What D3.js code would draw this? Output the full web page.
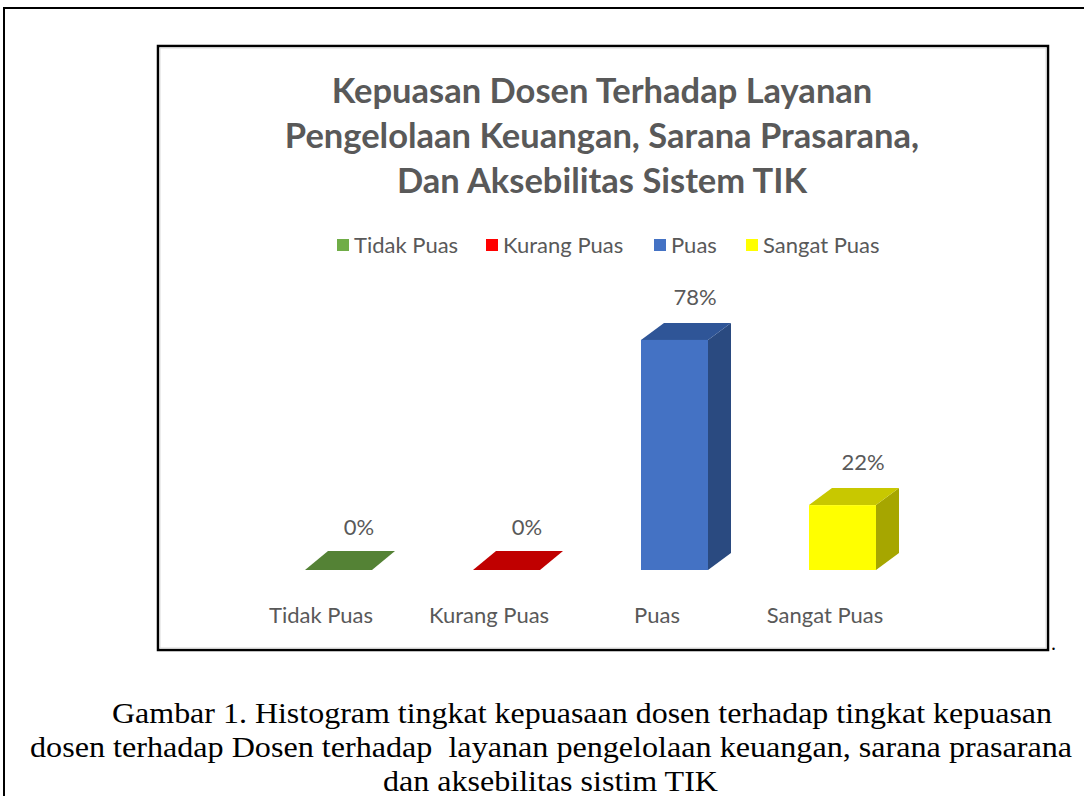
<!DOCTYPE html>
<html>
<head>
<meta charset="utf-8">
<script src="https://cdn.jsdelivr.net/npm/d3@7"></script>
<style>
  html, body { margin: 0; padding: 0; background: #fff; }
  svg { display: block; }
</style>
</head>
<body>
<svg id="chart" width="1084" height="796"></svg>
<script>
// ── Data ────────────────────────────────────────────────────────────
const categories = ["Tidak Puas", "Kurang Puas", "Puas", "Sangat Puas"];
const values     = [0, 0, 78, 22];
const valueLabels = ["0%", "0%", "78%", "22%"];
const titleLines = [
  "Kepuasan Dosen Terhadap Layanan",
  "Pengelolaan Keuangan, Sarana Prasarana,",
  "Dan Aksebilitas Sistem TIK"
];
const captionLines = [
  "Gambar 1. Histogram tingkat kepuasaan dosen terhadap tingkat kepuasan",
  "dosen terhadap Dosen terhadap  layanan pengelolaan keuangan, sarana prasarana",
  "dan aksebilitas sistim TIK"
];

// colours: legend, front, side, top
const COLORS = {
  "Tidak Puas":  { legend: "#70ad47", front: "#70ad47", side: "#4e7a31", top: "#548235" },
  "Kurang Puas": { legend: "#ff0000", front: "#ff0000", side: "#a00000", top: "#c00000" },
  "Puas":        { legend: "#4472c4", front: "#4472c4", side: "#2a4a80", top: "#2f5597" },
  "Sangat Puas": { legend: "#ffff00", front: "#ffff00", side: "#a6a600", top: "#c8c800" }
};

const FONT = "Lato, 'Open Sans', sans-serif";
const GREY = "#595959";

const svg = d3.select("#chart");

// ── Page frame ──────────────────────────────────────────────────────
svg.append("path")
  .attr("d", "M4,800 V8 H1090")
  .attr("fill", "none").attr("stroke", "#000").attr("stroke-width", 2);

// chart box
svg.append("rect")
  .attr("x", 158).attr("y", 46).attr("width", 890).attr("height", 604)
  .attr("fill", "#fff").attr("stroke", "#000").attr("stroke-width", 2.5);
svg.append("rect")
  .attr("x", 160).attr("y", 48).attr("width", 886).attr("height", 600)
  .attr("fill", "none").attr("stroke", "#d9d9d9").attr("stroke-width", 1);

svg.append("text")
  .attr("x", 1051).attr("y", 650)
  .attr("font-family", "'Liberation Serif', serif").attr("font-size", 20)
  .text(".");

// ── Title ───────────────────────────────────────────────────────────
svg.append("g").selectAll("text")
  .data(titleLines)
  .join("text")
  .attr("x", 602)
  .attr("y", (d, i) => 103 + i * 45)
  .attr("text-anchor", "middle")
  .attr("font-family", FONT)
  .attr("font-weight", "bold")
  .attr("font-size", 34.5)
  .attr("fill", GREY)
  .text(d => d);

// ── Legend ──────────────────────────────────────────────────────────
const legendX = [337, 486, 654, 746];
const legend = svg.append("g").selectAll("g")
  .data(categories)
  .join("g")
  .attr("transform", (d, i) => `translate(${legendX[i]},245)`);
legend.append("rect")
  .attr("x", 0).attr("y", -6).attr("width", 12).attr("height", 12)
  .attr("fill", d => COLORS[d].legend);
legend.append("text")
  .attr("x", 17).attr("y", 8)
  .attr("font-family", FONT).attr("font-size", 22).attr("fill", GREY)
  .text(d => d);

// ── Scales ──────────────────────────────────────────────────────────
const x = d3.scaleBand().domain(categories).range([237, 909]);
const y = d3.scaleLinear().domain([0, 100]).range([570, 275]);

const FRONT_L = -16, FRONT_W = 67, DX = 23, DY = -17;

const bars = svg.append("g").selectAll("g")
  .data(categories.map((c, i) => ({ cat: c, value: values[i], label: valueLabels[i] })))
  .join("g");

function center(d) { return x(d.cat) + x.bandwidth() / 2; }

// side face
bars.filter(d => d.value > 0).append("path")
  .attr("d", d => {
    const x1 = center(d) + FRONT_L + FRONT_W, y0 = y(0), y1 = y(d.value);
    return `M${x1},${y0} L${x1 + DX},${y0 + DY} L${x1 + DX},${y1 + DY} L${x1},${y1} Z`;
  })
  .attr("fill", d => COLORS[d.cat].side);

// top face
bars.append("path")
  .attr("d", d => {
    const x0 = center(d) + FRONT_L, x1 = x0 + FRONT_W, y1 = y(d.value);
    const dy = d.value > 0 ? DY : -19;
    return `M${x0},${y1} L${x1},${y1} L${x1 + DX},${y1 + dy} L${x0 + DX},${y1 + dy} Z`;
  })
  .attr("fill", d => COLORS[d.cat].top);

// front face
bars.filter(d => d.value > 0).append("rect")
  .attr("x", d => center(d) + FRONT_L)
  .attr("y", d => y(d.value))
  .attr("width", FRONT_W)
  .attr("height", d => y(0) - y(d.value))
  .attr("fill", d => COLORS[d.cat].front);

// value labels
bars.append("text")
  .attr("x", d => center(d) + 38)
  .attr("y", d => y(d.value) + DY - 18)
  .attr("text-anchor", "middle")
  .attr("font-family", FONT).attr("font-size", 22).attr("fill", GREY)
  .text(d => d.label);

// category axis labels
const xAxis = svg.append("g")
  .attr("transform", "translate(0,606)")
  .call(d3.axisBottom(x).tickSize(0).tickPadding(0));
xAxis.select(".domain").remove();
xAxis.selectAll("text")
  .attr("font-family", FONT).attr("font-size", 22).attr("fill", GREY)
  .attr("dy", "0.75em");

// ── Caption ─────────────────────────────────────────────────────────
const capX = [[112, 1052], [30, 1072], [383, 718]];
svg.append("g").selectAll("text")
  .data(captionLines)
  .join("text")
  .attr("x", (d, i) => capX[i][0])
  .attr("y", (d, i) => 723 + i * 34)
  .attr("textLength", (d, i) => capX[i][1] - capX[i][0])
  .attr("lengthAdjust", "spacingAndGlyphs")
  .attr("font-family", "'Liberation Serif', 'Times New Roman', serif")
  .attr("font-size", 29)
  .attr("fill", "#000")
  .style("white-space", "pre")
  .text(d => d);
</script>
</body>
</html>
